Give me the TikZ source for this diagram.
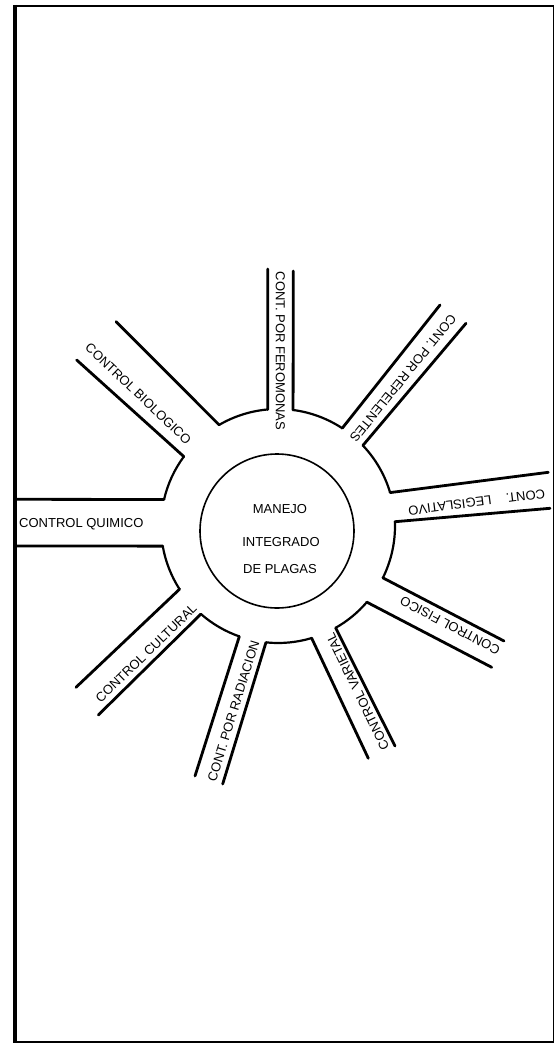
\documentclass[tikz,border=0pt]{standalone}
\usepackage{fontspec}
\setmainfont{Liberation Sans}
\begin{document}
\begin{tikzpicture}[x=1pt,y=-1pt,
  strip/.style={line width=2.8pt},
  ringarc/.style={line width=2.2pt},
  lab/.style={font=\fontsize{13}{13}\selectfont, inner sep=0pt, text height=9.4pt, text depth=0pt},
  hubtext/.style={font=\fontsize{13}{13}\selectfont, inner sep=0pt, text height=9.4pt, text depth=0pt}]
\useasboundingbox (0,0) rectangle (555,1044);
% frame
\draw[line width=1.5pt] (15,6) rectangle (553.5,1042);
\draw[line width=2.5pt] (14,6) -- (553.5,6);
\draw[line width=3.5pt] (15,4.8) -- (15,1043);
% ring centre and inner ends of the strips (radius 117)
\coordinate (rc) at (278,526);
\coordinate (FL) at ([shift={(265:117)}]rc);
\coordinate (FR) at ([shift={(-82.6:117)}]rc);
\coordinate (RepL) at ([shift={(-56.7:117)}]rc);
\coordinate (RepR) at ([shift={(-43.5:117)}]rc);
\coordinate (LegT) at ([shift={(-16.6:117)}]rc);
\coordinate (LegB) at ([shift={(-2.1:117)}]rc);
\coordinate (FisU) at ([shift={(26.3:117)}]rc);
\coordinate (FisL) at ([shift={(40.6:117)}]rc);
\coordinate (VarR) at ([shift={(60.5:117)}]rc);
\coordinate (VarL) at ([shift={(73.3:117)}]rc);
\coordinate (RadR) at ([shift={(95.9:117)}]rc);
\coordinate (RadL) at ([shift={(109.3:117)}]rc);
\coordinate (CulR) at ([shift={(131.2:117)}]rc);
\coordinate (CulL) at ([shift={(147.3:117)}]rc);
\coordinate (QuiB) at ([shift={(170.1:117)}]rc);
\coordinate (QuiT) at ([shift={(193.1:117)}]rc);
\coordinate (BioL) at ([shift={(216.4:117)}]rc);
\coordinate (BioU) at ([shift={(239.8:117)}]rc);
% outer ends
\coordinate (FLo) at (267.7,269);
\coordinate (FRo) at (293.3,271);
\coordinate (RepLo) at (440,305);
\coordinate (RepRo) at (466,323.3);
\coordinate (LegTo) at (548.3,472.3);
\coordinate (LegBo) at (550,508.3);
\coordinate (FisUo) at (504,641);
\coordinate (FisLo) at (491.7,667.3);
\coordinate (VarRo) at (395,746);
\coordinate (VarLo) at (368.3,758.3);
\coordinate (RadRo) at (222.7,784);
\coordinate (RadLo) at (195,776);
\coordinate (CulRo) at (98.3,715);
\coordinate (CulLo) at (76,687.3);
\coordinate (QuiBo) at (16.7,546);
\coordinate (QuiTo) at (16.7,499.3);
\coordinate (BioLo) at (76.7,360);
\coordinate (BioUo) at (116,321.7);
% strips
\foreach \a in {FL,FR,RepL,RepR,LegT,LegB,FisU,FisL,VarR,VarL,RadR,RadL,CulR,CulL,QuiB,QuiT,BioL,BioU}
  \draw[strip, line cap=round] (\a) -- (\a o);
% ring arcs
\draw[ringarc] (FR) arc[start angle=-82.6, end angle=-56.7, radius=117];
\draw[ringarc] (RepR) arc[start angle=-43.5, end angle=-16.6, radius=117];
\draw[ringarc] (LegB) arc[start angle=-2.1, end angle=26.3, radius=117];
\draw[ringarc] (FisL) arc[start angle=40.6, end angle=60.5, radius=117];
\draw[ringarc] (VarL) arc[start angle=73.3, end angle=95.9, radius=117];
\draw[ringarc] (RadL) arc[start angle=109.3, end angle=131.2, radius=117];
\draw[ringarc] (CulL) arc[start angle=147.3, end angle=170.1, radius=117];
\draw[ringarc] (QuiT) arc[start angle=193.1, end angle=216.4, radius=117];
\draw[ringarc] (BioU) arc[start angle=239.8, end angle=265, radius=117];
% hub
\node[circle, draw, line width=1.6pt, minimum size=154pt, inner sep=0pt] (hub) at (277,531) {};
\node[hubtext] (h1) at (280,508.3) {MANEJO};
\node[hubtext] (h2) at (281,541.7) {INTEGRADO};
\node[hubtext] (h3) at (280,568.3) {DE PLAGAS};
% labels
\node[lab, rotate=-90] (tFer) at (280.5,351) {CONT. POR FEROMONAS};
\node[lab, rotate=-129] (tRep) at (403.3,378.3) {CONT. POR REPELENTES};
\node[lab, rotate=-172.7] (tLeg) at (476.7,502.5) {CONT.\hspace{15pt}LEGISLATIVO};
\node[lab, rotate=152.3] (tFis) at (450,625.8) {CONTROL FISICO};
\node[lab, rotate=115.9] (tVar) at (357.5,691.7) {CONTROL VARIETAL};
\node[lab, rotate=72.7] (tRad) at (233.3,710.8) {CONT. POR RADIACION};
\node[lab, rotate=44.1] (tCul) at (146,653) {CONTROL CULTURAL};
\node[lab, anchor=west] (tQui) at (19,523) {CONTROL QUIMICO};
\node[lab, rotate=-43.5] (tBio) at (138.5,393.5) {CONTROL BIOLOGICO};
\end{tikzpicture}
\end{document}
